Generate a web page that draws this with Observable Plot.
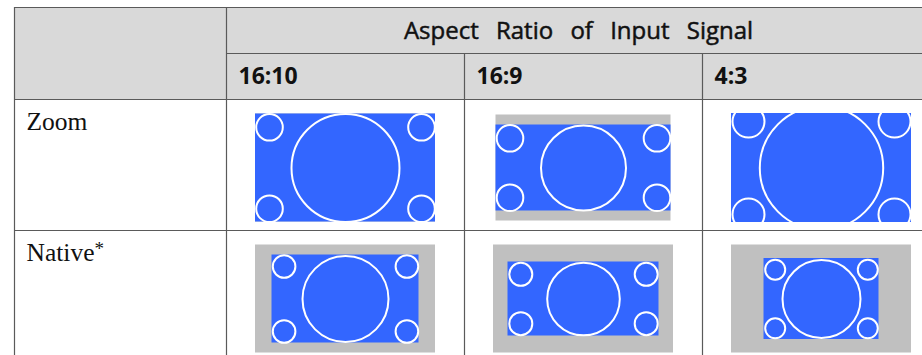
<!DOCTYPE html>
<html><head><meta charset="utf-8">
<script src="https://cdn.jsdelivr.net/npm/d3@7"></script>
<script src="https://cdn.jsdelivr.net/npm/@observablehq/plot@0.6"></script>
<style>html,body{margin:0;padding:0;background:#fff}</style>
</head><body><div id="chart"></div>
<script>
// ---- data ----
const header = "Aspect Ratio of Input Signal";
const signals = ["16:10", "16:9", "4:3"];
const modes = ["Zoom", "Native*"];
// picture per mode × signal (row-major): screen (grey) and projected image (blue)
const frameW = [180, 175, 180, 180, 180, 180];
const frameH = [108, 106, 108, 108, 108, 108];
const imageW = [180, 175, 180, 147, 151, 115];
const imageH = [108, 86, 109, 88, 74, 81];
const bigR = [54, 42.5, 61.7, 43, 36.3, 39];
const smallR = [13.3, 13.3, 16, 11.3, 11.5, 10];
const cornerDX = [76, 73.5, 73, 61.4, 62.7, 46.3];
const cornerDY = [40.7, 29.7, 46.4, 32.5, 24.7, 29.3];

// ---- layout ----
const W = 922, H = 355;
const tableLeft = 14, tableTop = 7, labelRight = 226, colW = 238;
const headerMid = 53, headerBottom = 99, rowH = 131;
const tableRight = labelRight + colW * signals.length;
const rowTop = i => headerBottom + i * rowH;
const colLeft = j => labelRight + j * colW;

const cells = [];
const circles = [];
modes.forEach((m, i) => signals.forEach((s, j) => {
  const k = i * signals.length + j;
  const cx = colLeft(j) + colW / 2, cy = rowTop(i) + 68.5;
  cells.push({mode: m, signal: s, cx, cy, fw: frameW[k], fh: frameH[k], iw: imageW[k], ih: imageH[k]});
  circles.push({x: cx, y: cy, r: bigR[k]});
  for (const sx of [-1, 1]) for (const sy of [-1, 1])
    circles.push({x: cx + sx * cornerDX[k], y: cy + sy * cornerDY[k], r: smallR[k]});
}));

const hLines = [
  {y: tableTop, x1: tableLeft, x2: tableRight},
  {y: headerMid, x1: labelRight, x2: tableRight},
  ...modes.map((m, i) => ({y: rowTop(i), x1: tableLeft, x2: tableRight}))
];
const vLines = [
  {x: tableLeft, y1: tableTop, y2: H + 10},
  {x: labelRight, y1: tableTop, y2: H + 10},
  ...signals.slice(1).map((s, j) => ({x: colLeft(j + 1), y1: headerMid, y2: H + 10}))
];

const lineColor = "#5a5a5a";
const plot = Plot.plot({
  width: W, height: H,
  margin: 0,
  x: {type: "linear", domain: [0, W], range: [0, W], axis: null},
  y: {type: "linear", domain: [0, H], range: [0, H], axis: null},
  r: {type: "identity"},
  style: {background: "#fff"},
  marks: [
    Plot.rect([{x1: tableLeft, x2: tableRight, y1: tableTop, y2: headerBottom}],
      {x1: "x1", x2: "x2", y1: "y1", y2: "y2", fill: "#d9d9d9"}),
    Plot.rect(cells, {x1: d => d.cx - d.fw / 2, x2: d => d.cx + d.fw / 2,
      y1: d => d.cy - d.fh / 2, y2: d => d.cy + d.fh / 2, fill: "#c0c0c0"}),
    Plot.rect(cells, {x1: d => d.cx - d.iw / 2, x2: d => d.cx + d.iw / 2,
      y1: d => d.cy - d.ih / 2, y2: d => d.cy + d.ih / 2, fill: "#3366ff"}),
    Plot.dot(circles, {x: "x", y: "y", r: "r", stroke: "#fff", strokeWidth: 2, fill: "none"}),
    Plot.ruleY(hLines, {y: "y", x1: "x1", x2: "x2", stroke: lineColor, strokeWidth: 1.2}),
    Plot.ruleX(vLines, {x: "x", y1: "y1", y2: "y2", stroke: lineColor, strokeWidth: 1.2}),
    Plot.text([header], {x: (labelRight + tableRight) / 2 - 5, y: 38, text: d => d,
      lineAnchor: "bottom", textAnchor: "middle", fontFamily: "Open Sans", fontSize: 24,
      fill: "#111", stroke: "#111", strokeWidth: 0.5}),
    Plot.text(signals, {x: (d, j) => colLeft(j) + 12, y: 83.5, text: d => d,
      lineAnchor: "bottom", textAnchor: "start", fontFamily: "Open Sans", fontSize: 23,
      fontWeight: "bold", fill: "#111"}),
    Plot.text(modes, {x: 26, y: (d, i) => rowTop(i) + 30, text: d => d,
      lineAnchor: "bottom", textAnchor: "start", fontFamily: "Liberation Serif", fontSize: 25.5,
      fill: "#111"})
  ]
});
// typographic touches: wide word spacing in the header, superscript asterisk
d3.select(plot).selectAll("text").each(function() {
  const t = this.textContent;
  if (t === header) {
    this.style.wordSpacing = "11px";
    this.style.paintOrder = "normal";
  } else if (t.endsWith("*") && modes.includes(t)) {
    const el = d3.select(this);
    el.text(t.slice(0, -1));
    el.append("tspan").attr("dy", "-0.3em").attr("font-size", "0.75em").text("*");
  }
});
document.getElementById("chart").append(plot);
</script>
</body></html>
